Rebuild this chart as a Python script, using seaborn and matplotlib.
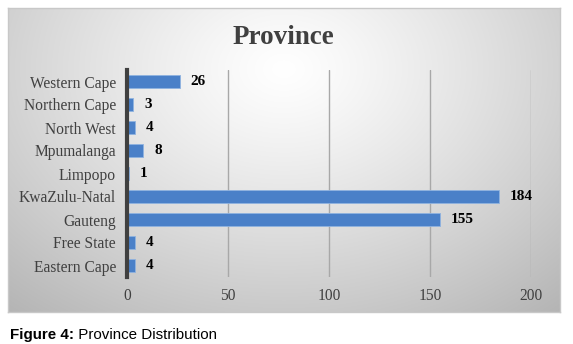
import numpy as np
import pandas as pd
import matplotlib
matplotlib.use("Agg")
import matplotlib.pyplot as plt
import seaborn as sns

provinces = ["Western Cape", "Northern Cape", "North West", "Mpumalanga", "Limpopo",
             "KwaZulu-Natal", "Gauteng", "Free State", "Eastern Cape"]
counts = [26, 3, 4, 8, 1, 184, 155, 4, 4]
xticks = [0, 50, 100, 150, 200]
title = "Province"
caption_bold = "Figure 4:"
caption_rest = " Province Distribution"

sns.set_theme(style="white")
plt.rcParams['font.family'] = ['Liberation Serif', 'DejaVu Serif']

W, H = 573, 344
fig = plt.figure(figsize=(W / 100, H / 100), dpi=100)
fig.patch.set_facecolor("white")

# background panel with radial gradient
px0, py0, px1, py1 = 8, 8, 560, 312
bg = fig.add_axes([px0 / W, 1 - py1 / H, (px1 - px0) / W, (py1 - py0) / H])
gy, gx = np.mgrid[0:1:300j, 0:1:550j]
d = np.sqrt(((gx - 0.5) / 0.7) ** 2 + ((gy - 0.2) / 0.95) ** 2)
d = np.clip(d, 0, 1.1)
val = 1.0 - 0.26 * d ** 1.2
bg.imshow(np.dstack([val, val, val]), aspect="auto", extent=[0, 1, 1, 0])
bg.set_xticks([]); bg.set_yticks([])
for s in bg.spines.values():
    s.set_color("#c8c8c8"); s.set_linewidth(1)

# main axes
ax0, ax1, ay0, ay1 = 127, 531, 70, 277
ax = fig.add_axes([ax0 / W, 1 - ay1 / H, (ax1 - ax0) / W, (ay1 - ay0) / H])
ax.patch.set_alpha(0)
df = pd.DataFrame({"Province": provinces, "Count": counts})
sns.barplot(data=df, x="Count", y="Province", orient="h", color="#4a80c8",
            saturation=1, width=0.57, ax=ax, edgecolor="#8fb3e0", linewidth=0.6)
ax.set_xlim(0, 200)
ax.set_ylim(len(provinces) - 0.5, -0.5)
ax.set_xticks(xticks)
ax.set_xlabel(""); ax.set_ylabel("")
for x in xticks[1:]:
    ax.axvline(x, color="#a8a8a8", lw=1, zorder=0)
for s in ["top", "right", "bottom"]:
    ax.spines[s].set_visible(False)
ax.spines["left"].set_color("#404040")
ax.spines["left"].set_linewidth(3)
ax.tick_params(axis="both", length=0, labelsize=11.2, colors="#404040")
ax.tick_params(axis="x", pad=8)
ax.tick_params(axis="y", pad=8)
for lab in ax.get_xticklabels() + ax.get_yticklabels():
    lab.set_color("#404040")
ax.bar_label(ax.containers[0], labels=[str(c) for c in counts], padding=8,
             fontsize=11, fontweight="bold", color="black")

fig.text(283 / W, 1 - 38 / H, title, ha="center", va="center", fontsize=19.5,
         fontweight="bold", color="#404040")

t = fig.text(10 / W, 1 - 335 / H, caption_bold, ha="left", va="center", fontsize=10.9,
             fontweight="bold", family=["Liberation Sans", "DejaVu Sans"], color="black")
fig.canvas.draw()
bb = t.get_window_extent()
fig.text(bb.x1 / W, 1 - 335 / H, caption_rest, ha="left", va="center", fontsize=10.9,
         family=["Liberation Sans", "DejaVu Sans"], color="black")

fig.savefig("out.png", dpi=100)
